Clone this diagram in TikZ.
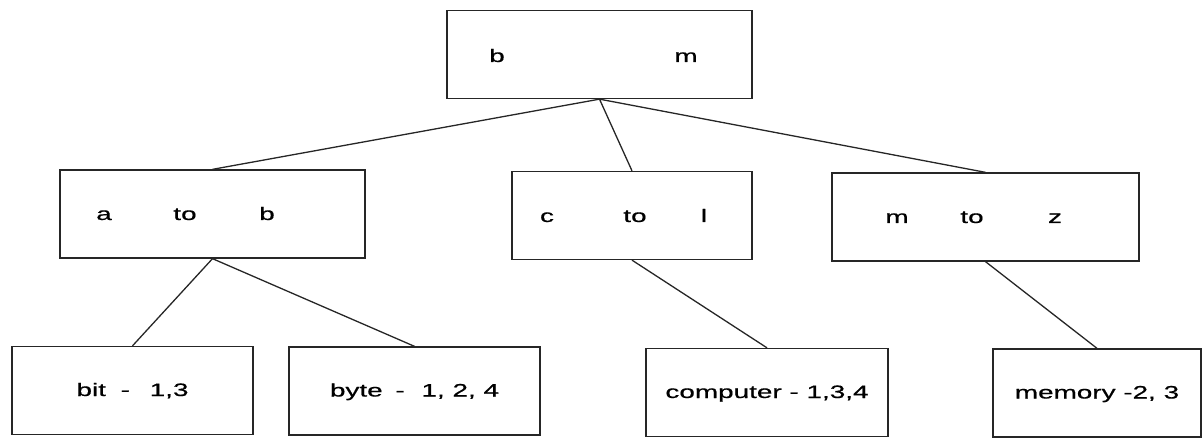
\documentclass[tikz,border=0pt]{standalone}
\usepackage{fontspec}
\newfontfamily\boxfont{Liberation Sans}[FakeStretch=1.55,FakeBold=0.6]
\usetikzlibrary{positioning}
\tikzset{
box/.style={draw=black!85,line width=1.3pt,minimum width=#1pt,minimum height=88pt,inner sep=0pt,font=\boxfont\fontsize{18}{20}\selectfont,text height=13pt,text depth=2pt},
word/.style={anchor=base,inner sep=0pt,font=\boxfont\fontsize{18}{20}\selectfont},
line/.style={-,line width=1.3pt,black!85},
}
\begin{document}
\begin{tikzpicture}[x=1pt,y=-1pt]
  \useasboundingbox (0,0) rectangle (1202,438);
  \node[box=305] (root) at (599.5,54.5) {};
  \node[box=305] (ab) at (212.5,214) {};
  \node[box=240] (cl) at (632,215.5) {};
  \node[box=307] (mz) at (985.5,217) {};
  \node[box=241] (bit) at (132.5,390.5) {bit\ \hspace{7pt}-\ \hspace{12pt}1,3};
  \node[box=251] (byte) at (414.5,391) {byte\ \hspace{5pt}-\ \hspace{9pt}1, 2, 4};
  \node[box=242] (comp) at (767,392.5) {computer - 1,3,4};
  \node[box=208] (mem) at (1097,393) {memory -2, 3};
  \foreach \n/\t/\x/\y in {rb/b/497/62,rm/m/686/62,
    ab1/a/104/220,ab2/to/185/220,ab3/b/267/220,
    cl1/c/547/222,cl2/to/635/222,cl3/l/704/222,
    mz1/m/897/223,mz2/to/972/223,mz3/z/1055/223}
  { \node[word] (\n) at (\x,\y) {\t}; }
  \draw[line] (root.south) -- (ab.north)
  (root.south) -- (cl.north)
  (root.south) -- (mz.north);
  \draw[line] (ab.south) -- (bit.north)
  (ab.south) -- (byte.north)
  (cl.south) -- (comp.north)
  (mz.south) -- (mem.north);
\end{tikzpicture}
\end{document}
